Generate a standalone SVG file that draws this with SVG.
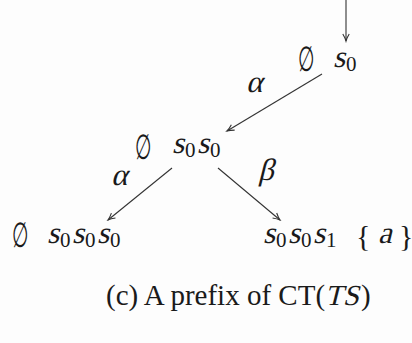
<svg xmlns="http://www.w3.org/2000/svg" width="412" height="343" viewBox="0 0 412 343">
<defs>
<style>
text{font-family:"Liberation Serif",serif;fill:#1a1a1a;}
.m{font-size:31px;}
.sub{font-size:21px;}
.br{font-size:30px;}
.es{font-family:"DejaVu Serif",serif;font-size:30px;}
.cap{font-size:29px;}
.e{stroke:#333;stroke-width:1.1;fill:none;marker-end:url(#ah);}
</style>
<marker id="ah" viewBox="-8 -5 10 10" markerWidth="10" markerHeight="10" refX="0" refY="0" orient="auto" markerUnits="userSpaceOnUse">
<path d="M-7,-3.2 Q-3,-0.8 0,0 Q-3,0.8 -7,3.2" stroke="#333" stroke-width="1.1" fill="none"/>
</marker>
</defs>
<rect width="412" height="343" fill="#fdfdfd"/>
<g id="connectors">
<line class="e" x1="346" y1="0" x2="346" y2="41"/>
<line class="e" x1="322" y1="74" x2="227" y2="131"/>
<line class="e" x1="172" y1="168" x2="108" y2="220"/>
<line class="e" x1="218" y1="168" x2="280" y2="220"/>
</g>
<g id="edge-labels">
<text class="m" transform="translate(246,92) skewX(-14)">α</text>
<text class="m" transform="translate(111,185) skewX(-14)">α</text>
<text class="m" transform="translate(258,180) skewX(-14)">β</text>
</g>
<g id="n0">
<text class="es" transform="translate(298,71) scale(0.62,1.15)">∅</text>
<text class="m" transform="translate(333,67) skewX(-14)">s</text>
<text class="sub" x="346" y="71">0</text>
</g>
<g id="n1">
<text class="es" transform="translate(135,159) scale(0.62,1.15)">∅</text>
<text class="m" transform="translate(172,153) skewX(-14)">s</text>
<text class="sub" x="185" y="157">0</text>
<text class="m" transform="translate(197,153) skewX(-14)">s</text>
<text class="sub" x="210" y="157">0</text>
</g>
<g id="n2">
<text class="es" transform="translate(12,247) scale(0.62,1.15)">∅</text>
<text class="m" transform="translate(47,243) skewX(-14)">s</text>
<text class="sub" x="60" y="247">0</text>
<text class="m" transform="translate(72,243) skewX(-14)">s</text>
<text class="sub" x="85" y="247">0</text>
<text class="m" transform="translate(97,243) skewX(-14)">s</text>
<text class="sub" x="110" y="247">0</text>
</g>
<g id="n3">
<text class="m" transform="translate(263,243) skewX(-14)">s</text>
<text class="sub" x="276" y="247">0</text>
<text class="m" transform="translate(288,243) skewX(-14)">s</text>
<text class="sub" x="301" y="247">0</text>
<text class="m" transform="translate(313,243) skewX(-14)">s</text>
<text class="sub" x="326" y="247">1</text>
<text class="br" x="356" y="246">{</text>
<text class="m" transform="translate(378,243) skewX(-14)">a</text>
<text class="br" x="399" y="246">}</text>
</g>
<g id="caption">
<text class="cap" x="106" y="305">(c) A prefix of CT(</text>
<text class="cap" transform="translate(325,305) skewX(-14)">TS</text>
<text class="cap" x="361" y="305">)</text>
</g>
</svg>
